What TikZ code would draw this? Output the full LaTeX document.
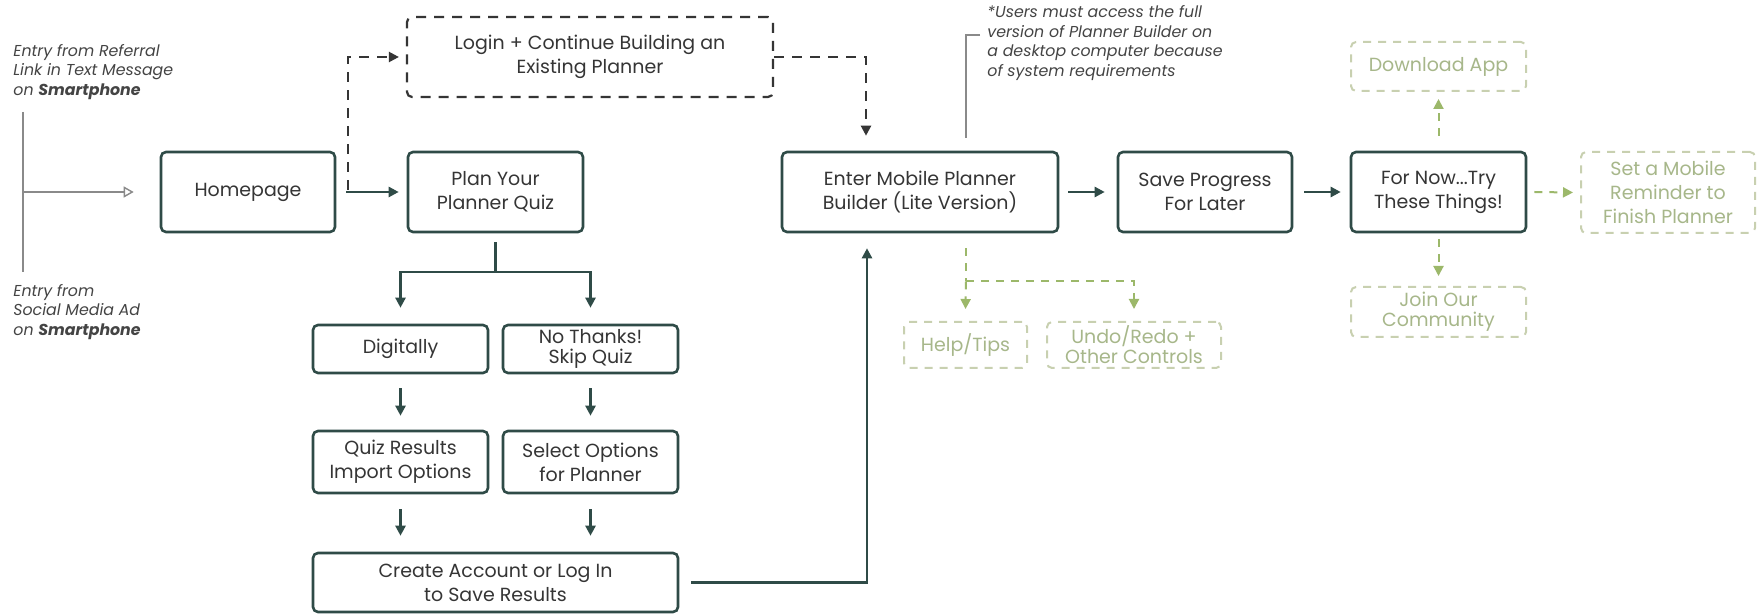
\documentclass[tikz,border=0pt]{standalone}
\usepackage{fontspec}
\setmainfont{Poppins}
\usetikzlibrary{arrows.meta,calc}
\definecolor{boxc}{HTML}{2F4B47}
\definecolor{txtc}{HTML}{353535}
\definecolor{grn}{HTML}{9CB86A}
\definecolor{grntxt}{HTML}{A7B78A}
\definecolor{grnbox}{HTML}{C8D0B0}
\definecolor{notec}{HTML}{8A8A8A}
\definecolor{entc}{HTML}{444444}
\begin{document}
\begin{tikzpicture}[x=0.5pt,y=-0.5pt,
  mainfont/.style={font=\fontsize{9.5}{12}\selectfont},
  tightfont/.style={font=\fontsize{9.5}{10}\selectfont},
  solidbox/.style={draw=boxc, line width=1.3pt, rounded corners=2.5pt, align=center, text=txtc, inner sep=0pt, mainfont},
  loginbox/.style={draw=txtc, line width=1.1pt, rounded corners=2.5pt, align=center, text=txtc, inner sep=0pt, dash pattern=on 5pt off 4pt, mainfont},
  gbox/.style={draw=grnbox, line width=1pt, rounded corners=2.5pt, align=center, text=grntxt, inner sep=0pt, dash pattern=on 4pt off 3.5pt, mainfont},
  arr/.style={draw=boxc, line width=1.2pt, -{Triangle[length=5pt,width=5pt]}},
  plainline/.style={draw=boxc, line width=1.2pt},
  darr/.style={draw=txtc, line width=1.1pt, dash pattern=on 5pt off 4pt, -{Triangle[length=5pt,width=5pt]}},
  garr/.style={draw=grn, line width=1pt, dash pattern=on 4pt off 3.5pt, -{Triangle[length=5pt,width=5pt]}},
  gline/.style={draw=grn, line width=1pt, dash pattern=on 4pt off 3.5pt},
  entryline/.style={draw=notec, line width=0.7pt},
  notetext/.style={align=left, text=entc, inner sep=0pt, font=\fontsize{7.9}{9.8}\selectfont\itshape},
]
\useasboundingbox[fill=white] (0,0) rectangle (1762,614);

% main nodes
\node[solidbox, minimum width=87pt, minimum height=40pt] (home) at (248,192) {Homepage};
\node[solidbox, minimum width=87.5pt, minimum height=40pt] (plan) at (495.5,192) {Plan Your\\Planner Quiz};
\node[loginbox, minimum width=183pt, minimum height=40pt] (login) at (590,57) {Login + Continue Building an\\Existing Planner};
\node[solidbox, minimum width=138pt, minimum height=40pt] (enter) at (920,192) {Enter Mobile Planner\\Builder (Lite Version)};
\node[solidbox, minimum width=87pt, minimum height=40pt] (save) at (1205,192) {Save Progress\\For Later};
\node[solidbox, minimum width=87.5pt, minimum height=40pt] (fornow) at (1438.5,192) {For Now...Try\\These Things!};
\node[gbox, minimum width=87.5pt, minimum height=24.5pt] (dl) at (1438.5,66.5) {Download App};
\node[gbox, tightfont, minimum width=87.5pt, minimum height=25pt] (join) at (1438.5,312) {Join Our\\Community};
\node[gbox, minimum width=87pt, minimum height=40.5pt] (rem) at (1668,192.5) {Set a Mobile\\Reminder to\\Finish Planner};
\node[gbox, tightfont, minimum width=61.5pt, minimum height=23pt] (help) at (965.5,345) {Help/Tips};
\node[gbox, tightfont, minimum width=87pt, minimum height=23pt] (undo) at (1134,345) {Undo/Redo +\\Other Controls};
\node[solidbox, tightfont, minimum width=87.5pt, minimum height=24pt] (dig) at (400.5,349) {Digitally};
\node[solidbox, tightfont, minimum width=87.5pt, minimum height=24pt] (nothx) at (590.5,349) {No Thanks!\\Skip Quiz};
\node[solidbox, minimum width=87.5pt, minimum height=31pt] (qres) at (400.5,462) {Quiz Results\\Import Options};
\node[solidbox, minimum width=87.5pt, minimum height=31pt] (sel) at (590.5,462) {Select Options\\for Planner};
\node[solidbox, minimum width=182.5pt, minimum height=29.5pt] (create) at (495.5,582.5) {Create Account or Log In\\to Save Results};

% texts
\node[notetext, anchor=west] (e1) at (13,72) {Entry from Referral\\Link in Text Message\\on {\bfseries Smartphone}};
\node[notetext, anchor=west] (e2) at (13,312) {Entry from\\Social Media Ad\\on {\bfseries Smartphone}};
\node[notetext, anchor=west] (note) at (987,43) {*Users must access the full\\version of Planner Builder on\\a desktop computer because\\of system requirements};

% entry lines
\coordinate (etop) at (23,112);
\coordinate (ebot) at (23,272);
\coordinate (emid) at (23,192);
\draw[entryline] (etop) -- (ebot);
\draw[entryline, -{Triangle[open,length=5pt,width=5.5pt]}] (emid) -- ([xshift=-13pt]home.west);

% note line
\coordinate (n1) at (980,35);
\coordinate (n2) at (966,35);
\coordinate (n3) at (966,138);
\draw[entryline] (n1) -- (n2) -- (n3);

% connectors
\draw[arr] ([xshift=5pt]home.east) -- ([xshift=-4pt]plan.west);
\draw[darr] ([xshift=6pt,yshift=1pt]home.east) |- ([xshift=-3.5pt]login.west);
\draw[darr] (login.east) -| ([xshift=-27pt,yshift=7.5pt]enter.north);
\draw[arr] ([xshift=4.5pt]enter.east) -- ([xshift=-6pt]save.west);
\draw[arr] ([xshift=5.5pt]save.east) -- ([xshift=-4.5pt]fornow.west);
\draw[garr] ([xshift=3.5pt]fornow.east) -- ([xshift=-3.5pt]rem.west);
\draw[garr] ([yshift=7.5pt]fornow.north) -- ([yshift=-3.5pt]dl.south);
\draw[garr] ([yshift=-3pt]fornow.south) -- ([yshift=5pt]join.north);

\coordinate (gsplit) at ([xshift=23pt,yshift=-24pt]enter.south);
\draw[gline] ([xshift=23pt,yshift=-7.5pt]enter.south) -- (gsplit);
\draw[garr] (gsplit) -- ([yshift=6pt]help.north);
\draw[garr] (gsplit) -| ([yshift=6pt]undo.north);

\coordinate (split) at ([yshift=-19.5pt]plan.south);
\draw[plainline] ([yshift=-4.5pt]plan.south) -- (split);
\draw[arr] (split) -| ([yshift=8pt]dig.north);
\draw[arr] (split) -| ([yshift=8pt]nothx.north);
\draw[arr] ([yshift=-7pt]dig.south) -- ([yshift=7pt]qres.north);
\draw[arr] ([yshift=-7pt]nothx.south) -- ([yshift=7pt]sel.north);
\coordinate (c1) at (qres.south |- create.north);
\coordinate (c2) at (sel.south |- create.north);
\draw[arr] ([yshift=-7.5pt]qres.south) -- ([yshift=8pt]c1);
\draw[arr] ([yshift=-7.5pt]sel.south) -- ([yshift=8pt]c2);
\draw[arr] ([xshift=6pt]create.east) -| ([xshift=-26.5pt,yshift=-7.5pt]enter.south);
\end{tikzpicture}
\end{document}
